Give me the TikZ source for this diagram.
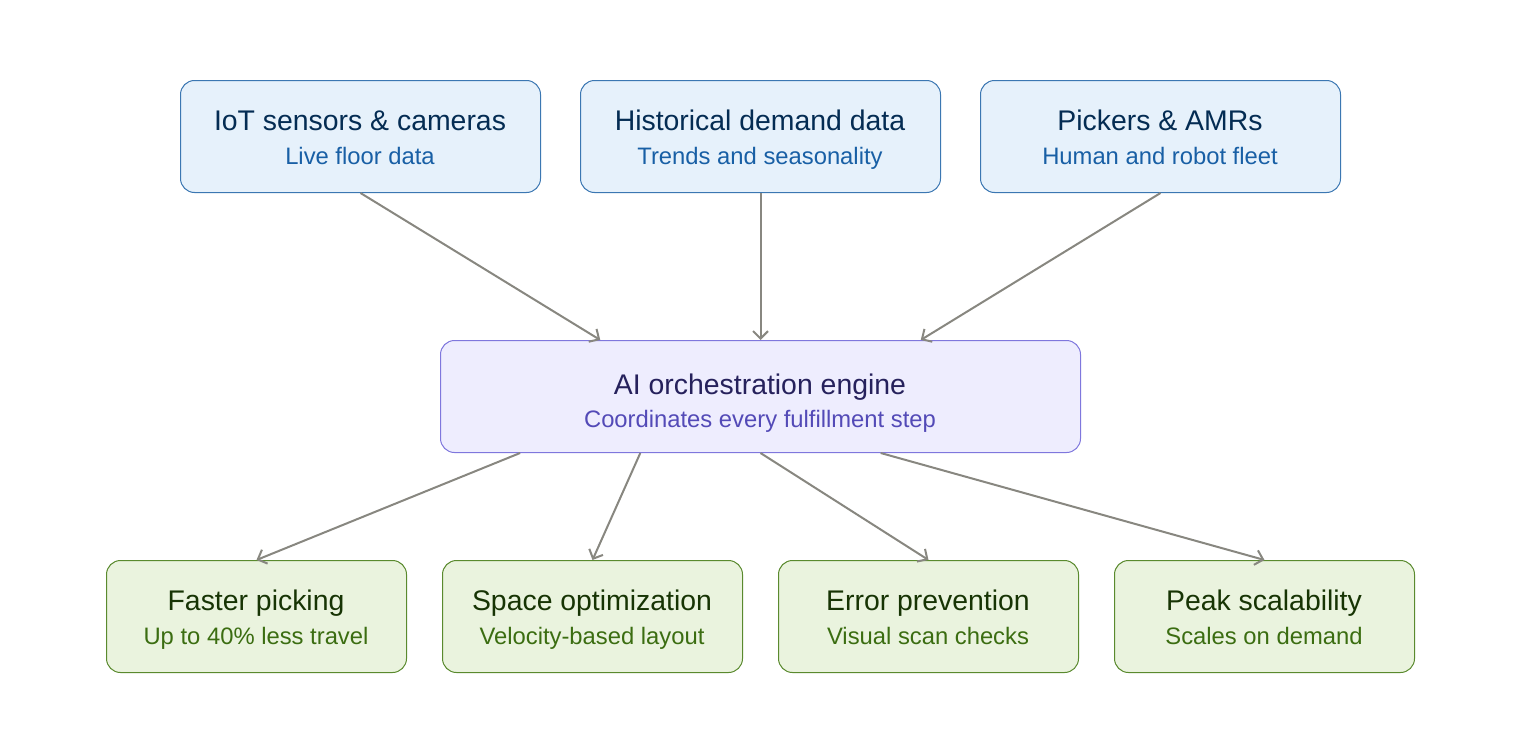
\documentclass[tikz,border=0pt]{standalone}
\usepackage{fontspec}
\setmainfont{Liberation Sans}
\usetikzlibrary{arrows.meta,calc}
\definecolor{bfill}{HTML}{E6F1FB}
\definecolor{bdraw}{HTML}{185FA5}
\definecolor{btitle}{HTML}{042C53}
\definecolor{pfill}{HTML}{EEEDFE}
\definecolor{pdraw}{HTML}{7F77DD}
\definecolor{ptitle}{HTML}{26215C}
\definecolor{psub}{HTML}{534AB7}
\definecolor{gfill}{HTML}{EAF3DE}
\definecolor{gdraw}{HTML}{5A8A2E}
\definecolor{gtitle}{HTML}{173404}
\definecolor{gsub}{HTML}{3B6D11}
\definecolor{arrowc}{HTML}{888780}
\tikzset{
  box/.style={rounded corners=14pt, line width=1pt, inner sep=0pt, anchor=north west},
  bluebox/.style={box, fill=bfill, draw=bdraw!85, minimum width=360pt, minimum height=112pt},
  purplebox/.style={box, fill=pfill, draw=pdraw, minimum width=640pt, minimum height=112pt},
  greenbox/.style={box, fill=gfill, draw=gdraw, minimum width=300pt, minimum height=112pt},
  ttl/.style={anchor=base, inner sep=0pt, font=\fontsize{28.4}{30}\selectfont},
  sub/.style={anchor=base, inner sep=0pt, font=\fontsize{23.8}{26}\selectfont},
  conn/.style={draw=arrowc, line width=2pt, -{Straight Barb[length=7.5pt,width=15pt,line width=2pt]}}
}
\begin{document}
\begin{tikzpicture}[x=1pt,y=-1pt]
\useasboundingbox (0,0) rectangle (1520,752);
% top boxes
\node[bluebox] (iot) at (180,80) {};
\node[bluebox] (hist) at (580,80) {};
\node[bluebox] (pick) at (980,80) {};
\node[ttl, text=btitle] (iott) at (360,130) {IoT sensors \& cameras};
\node[sub, text=bdraw] (iots) at (360,164) {Live floor data};
\node[ttl, text=btitle] (histt) at (760,130) {Historical demand data};
\node[sub, text=bdraw] (hists) at (760,164) {Trends and seasonality};
\node[ttl, text=btitle] (pickt) at (1160,130) {Pickers \& AMRs};
\node[sub, text=bdraw] (picks) at (1160,164) {Human and robot fleet};
% middle
\node[purplebox] (ai) at (440,340) {};
\node[ttl, text=ptitle] (ait) at (760,394) {AI orchestration engine};
\node[sub, text=psub] (ais) at (760,427) {Coordinates every fulfillment step};
% bottom
\node[greenbox] (fast) at (106,560) {};
\node[greenbox] (space) at (442,560) {};
\node[greenbox] (err) at (778,560) {};
\node[greenbox] (peak) at (1114,560) {};
\node[ttl, text=gtitle] (fastt) at (256,610) {Faster picking};
\node[sub, text=gsub] (fasts) at (256,644) {Up to 40\% less travel};
\node[ttl, text=gtitle] (spacet) at (592,610) {Space optimization};
\node[sub, text=gsub] (spaces) at (592,644) {Velocity-based layout};
\node[ttl, text=gtitle] (errt) at (928,610) {Error prevention};
\node[sub, text=gsub] (errs) at (928,644) {Visual scan checks};
\node[ttl, text=gtitle] (peakt) at (1264,610) {Peak scalability};
\node[sub, text=gsub] (peaks) at (1264,644) {Scales on demand};
% connectors
\draw[conn] (iot.south) -- ($(ai.north west)!0.25!(ai.north east)$);
\draw[conn] (hist.south) -- (ai.north);
\draw[conn] (pick.south) -- ($(ai.north west)!0.75!(ai.north east)$);
\draw[conn] ($(ai.south west)!0.125!(ai.south east)$) -- (fast.north);
\draw[conn] ($(ai.south west)!0.3125!(ai.south east)$) -- (space.north);
\draw[conn] (ai.south) -- (err.north);
\draw[conn] ($(ai.south west)!0.6875!(ai.south east)$) -- (peak.north);
\end{tikzpicture}
\end{document}
